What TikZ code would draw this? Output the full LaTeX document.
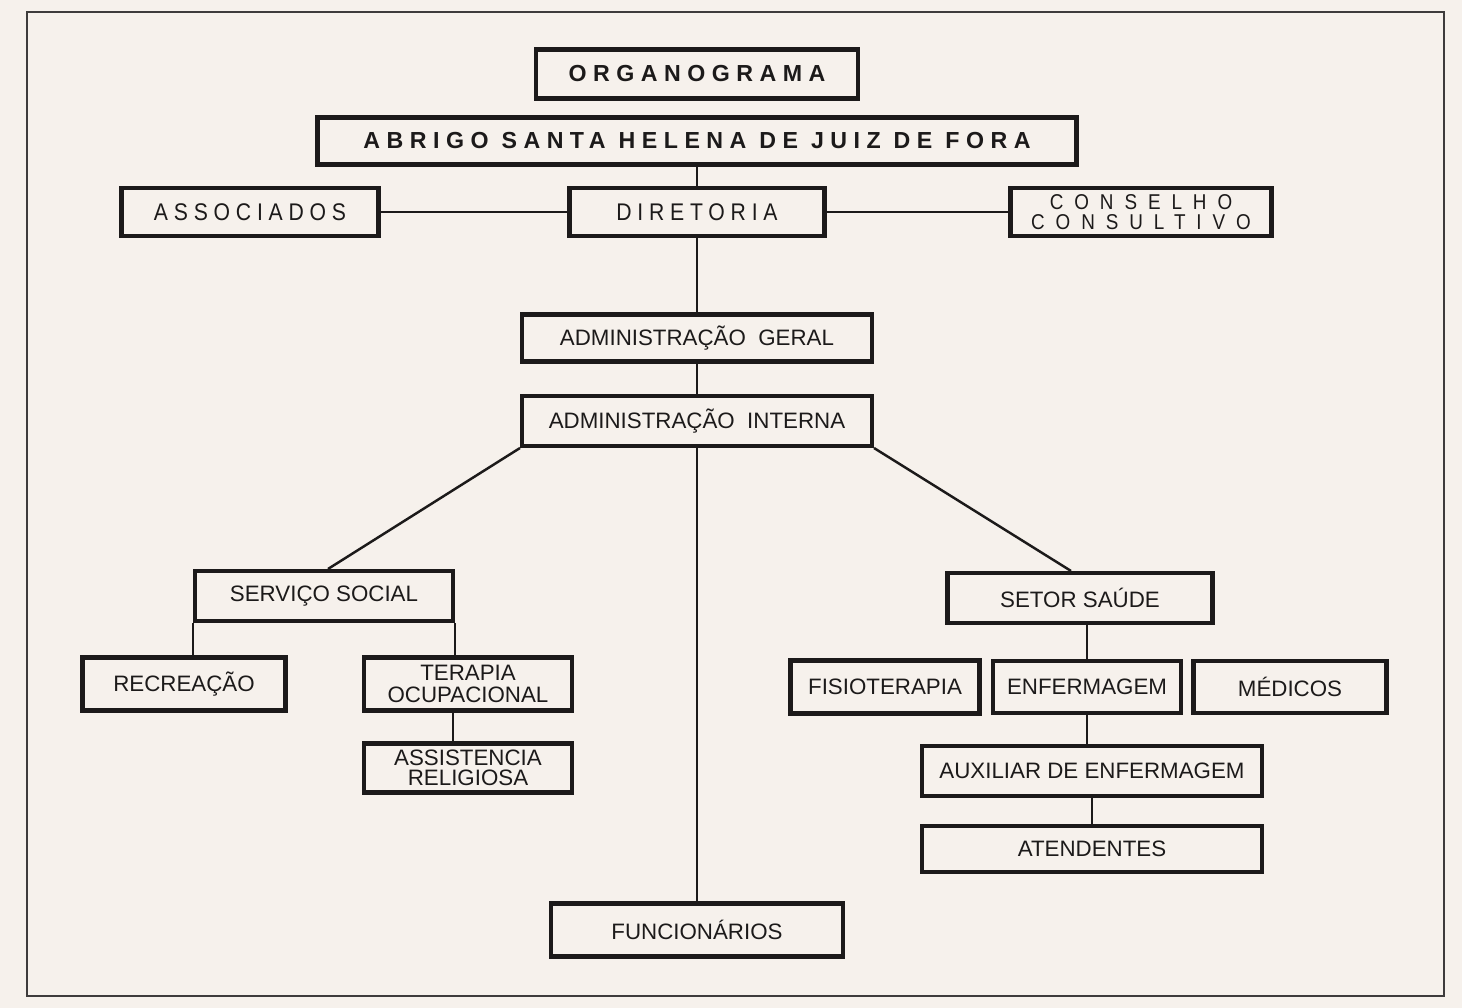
\documentclass[tikz,border=0pt]{standalone}
\usepackage{fontspec}
\setmainfont{Liberation Sans}
\newfontfamily\titlefam{Liberation Sans}[LetterSpace=28]
\newfontfamily\headfam{Liberation Sans}[LetterSpace=24,FakeStretch=0.88]
\newfontfamily\conselhofam{Liberation Sans}[LetterSpace=51,FakeStretch=0.88]
\usetikzlibrary{positioning}
\definecolor{paper}{RGB}{246,241,236}
\definecolor{ink}{RGB}{28,26,26}

\begin{document}
\begin{tikzpicture}[node distance=15mm, on grid,
    box/.style={draw=ink, line width=2.3pt, inner sep=0pt, align=center, text=ink,
      font=\fontsize{12.7}{13}\selectfont},
    titlebox/.style={box, font=\titlefam\bfseries\fontsize{13.2}{14}\selectfont},
    headbox/.style={box, font=\headfam\fontsize{13.7}{14}\selectfont},
    link/.style={draw=ink, line width=1.4pt},
    frame/.style={draw=ink!85, line width=1.1pt}]
    \fill[paper] (0,0) rectangle (292.4mm,-201.6mm);
    \draw[frame] (5.4mm,-2.4mm) rectangle (288.8mm,-199.2mm);

    \node[titlebox, minimum width=64.4mm, minimum height=9.8mm] (org) at (139.4mm,-14.8mm) {ORGANOGRAMA};
    \node[titlebox, minimum width=151.8mm, minimum height=9.4mm] (abrigo) [below=13.4mm of org] {ABRIGO SANTA HELENA DE JUIZ DE FORA};
    \node[headbox, minimum width=51mm, minimum height=9.6mm] (dir) [below=14.2mm of abrigo] {DIRETORIA};
    \node[headbox, minimum width=51.4mm, minimum height=9.6mm] (assoc) [left=89.4mm of dir] {ASSOCIADOS};
    \node[box, minimum width=52.2mm, minimum height=9.6mm,
      font=\conselhofam\fontsize{12.2}{11.4}\selectfont] (cons) [right=88.8mm of dir] {CONSELHO\\CONSULTIVO};
    \node[box, minimum width=70mm, minimum height=9.4mm] (admg) [below=25.2mm of dir] {ADMINISTRAÇÃO\ \ GERAL};
    \node[box, minimum width=70mm, minimum height=10mm] (admi) [below=16.6mm of admg] {ADMINISTRAÇÃO\ \ INTERNA};
    \node[box, minimum width=58.4mm, minimum height=10.6mm] (func) [below=101.8mm of admi] {FUNCIONÁRIOS};

    \node[box, minimum width=51.6mm, minimum height=10mm] (serv) [below left=35mm and 74.6mm of admi] {SERVIÇO SOCIAL};
    \node[box, minimum width=40.6mm, minimum height=10.6mm] (recr) [below left=17.6mm and 28mm of serv] {RECREAÇÃO};
    \node[box, minimum width=41.6mm, minimum height=10.6mm] (tera) [below right=17.6mm and 28.8mm of serv] {TERAPIA\\OCUPACIONAL};
    \node[box, minimum width=41.6mm, minimum height=9.8mm,
      font=\fontsize{12.7}{11.4}\selectfont] (assis) [below=16.8mm of tera] {ASSISTENCIA\\RELIGIOSA};

    \node[box, minimum width=53mm, minimum height=10mm] (setor) [below right=35.4mm and 76.6mm of admi] {SETOR SAÚDE};
    \node[box, minimum width=37.6mm, minimum height=10.4mm] (enf) [below right=17.8mm and 1.4mm of setor] {ENFERMAGEM};
    \node[box, minimum width=37.8mm, minimum height=10.6mm] (fisio) [left=40.4mm of enf] {FISIOTERAPIA};
    \node[box, minimum width=38.6mm, minimum height=10.4mm] (med) [right=40.6mm of enf] {MÉDICOS};
    \node[box, minimum width=68mm, minimum height=10mm] (aux) [below right=16.8mm and 1mm of enf] {AUXILIAR DE ENFERMAGEM};
    \node[box, minimum width=68mm, minimum height=9.2mm] (aten) [below=15.6mm of aux] {ATENDENTES};

    \path[link]
    (abrigo) edge (dir)
    (assoc) edge (dir)
    (dir) edge (cons)
    (dir) edge (admg)
    (admg) edge (admi)
    (admi) edge (func)
    (admi.south west) edge ([xshift=0.8mm]serv.north)
    (admi.south east) edge ([xshift=-1.8mm]setor.north)
    (serv.south west) edge (serv.south west |- recr.north)
    (serv.south east) edge (serv.south east |- tera.north)
    ([xshift=-3mm]tera.south) edge ([xshift=-3mm]assis.north)
    (enf.north) edge (enf.north |- setor.south)
    (enf.south) edge (enf.south |- aux.north)
    (aux) edge (aten);
\end{tikzpicture}
\end{document}
